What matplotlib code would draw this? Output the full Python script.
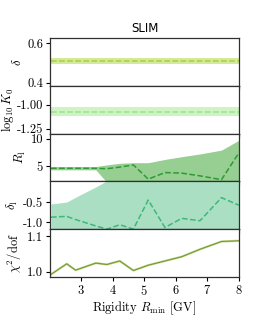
import numpy as np
import matplotlib
matplotlib.use("Agg")
import matplotlib.pyplot as plt
from matplotlib.ticker import FormatStrFormatter

plt.rcParams['font.family'] = 'cmr10'
plt.rcParams['mathtext.fontset'] = 'cm'
plt.rcParams['axes.formatter.use_mathtext'] = True
plt.rcParams['axes.unicode_minus'] = True

# Rigidity cut values (GV)
rmin = [2.05, 2.55, 2.83, 3.47, 3.82, 4.23, 4.66, 5.13, 5.66, 6.19, 6.77, 7.45, 8.0]

# delta
delta = [0.51] * 13
delta_lo = [0.495] * 13
delta_hi = [0.525] * 13

# log10 K0
logk0 = [-1.07] * 13
logk0_lo = [-1.115] * 13
logk0_hi = [-1.02] * 13

# R_l
rl = [4.58, 4.58, 4.58, 4.58, 4.5, 4.8, 5.2, 2.6, 3.8, 3.7, 3.2, 2.5, 7.4]
rl_lo = [4.3, 4.3, 4.3, 4.3, 2.0, 2.0, 2.0, 2.0, 2.0, 2.0, 2.0, 2.0, 2.0]
rl_hi = [4.9, 4.9, 4.9, 4.9, 5.2, 5.5, 5.6, 5.6, 6.2, 6.7, 7.2, 7.9, 9.7]

# delta_l
dl = [-0.88, -0.86, -0.94, -1.1, -1.18, -1.07, -1.18, -0.45, -1.14, -0.91, -0.97, -0.39, -0.58]
dl_lo = [-1.3] * 13
dl_hi = [-0.55, -0.5, -0.38, -0.12, 0.03, 0.5, 0.5, 0.5, 0.5, 0.5, 0.5, 0.5, 0.5]

# chi2/dof
chi2 = [0.992, 1.022, 1.004, 1.024, 1.020, 1.030, 1.003, 1.018, 1.030, 1.042, 1.063, 1.085, 1.087]

fig = plt.figure(figsize=(2.66, 3.19), dpi=100)
axes = fig.subplots(5, 1, sharex=True, gridspec_kw=dict(hspace=0))
fig.subplots_adjust(left=0.188, right=0.898, top=0.881, bottom=0.132)

panels = [
    (delta, delta_lo, delta_hi, '#d3eb98', '#a9cd48', r'$\delta$', (0.385, 0.625), [0.4, 0.6], '%.1f', 2),
    (logk0, logk0_lo, logk0_hi, '#cdf5c2', '#9fe096', r'$\log_{10} K_0$', (-1.30, -0.80), [-1.25, -1.00], '%.2f', 0.5),
    (rl, rl_lo, rl_hi, '#97cf93', '#2e9a34', r'$R_{\rm l}$', (2.2, 10.93), [5, 10], '%d', 2),
    (dl, dl_lo, dl_hi, '#abdfc3', '#3fb87a', r'$\delta_{\rm l}$', (-1.18, 0.02), [-1.0, -0.5], '%.1f', 2),
]

for ax, (y, lo, hi, fc, lc, lab, yl, yt, fmt, lp) in zip(axes[:4], panels):
    ax.fill_between(rmin, lo, hi, color=fc, lw=0)
    ax.plot(rmin, y, ls='--', color=lc, lw=1.1)
    ax.set_ylim(*yl)
    ax.set_yticks(yt)
    ax.yaxis.set_major_formatter(FormatStrFormatter(fmt))
    ax.set_ylabel(lab, fontsize=9, labelpad=lp)

ax = axes[4]
ax.plot(rmin, chi2, color='#c8dc90', lw=1.6)
ax.plot(rmin, chi2, color='#76983a', lw=0.8)
ax.set_ylim(0.985, 1.12)
ax.set_yticks([1.0, 1.1])
ax.yaxis.set_major_formatter(FormatStrFormatter('%.1f'))
ax.set_ylabel(r'$\chi^2/{\rm dof}$', fontsize=9, labelpad=2)

for ax in axes:
    ax.tick_params(labelsize=9, length=3, width=0.8, pad=2)
    for s in ax.spines.values():
        s.set_color('#303030')
        s.set_linewidth(0.9)

axes[-1].set_xlim(2.02, 8.0)
axes[-1].set_xticks([3, 4, 5, 6, 7, 8])
axes[-1].set_xlabel(r'Rigidity $R_{\rm min}$ [GV]', fontsize=9, labelpad=1)
axes[0].set_title('SLIM', fontsize=8.5, family='DejaVu Sans', pad=4)

fig.savefig('out.png', dpi=100)
